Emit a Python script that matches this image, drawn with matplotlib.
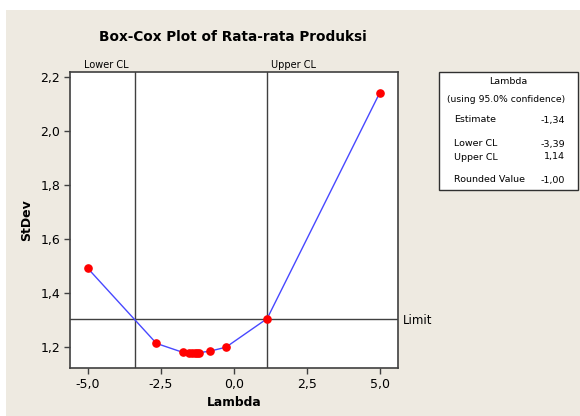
import matplotlib
matplotlib.use("Agg")
import matplotlib.pyplot as plt
from matplotlib.patches import Rectangle

lambdas = [-5.0, -2.65, -1.75, -1.52, -1.42, -1.34, -1.26, -1.19, -0.83, -0.27, 1.14, 5.0]
stdevs = [1.491, 1.213, 1.180, 1.179, 1.178, 1.178, 1.178, 1.179, 1.184, 1.199, 1.305, 2.142]
lower_cl = -3.39
upper_cl = 1.14
limit = 1.305
xticks = [-5.0, -2.5, 0.0, 2.5, 5.0]
xticklabels = ["-5,0", "-2,5", "0,0", "2,5", "5,0"]
yticks = [1.2, 1.4, 1.6, 1.8, 2.0, 2.2]
yticklabels = ["1,2", "1,4", "1,6", "1,8", "2,0", "2,2"]
legend_rows = [("Estimate", "-1,34"), ("Lower CL", "-3,39"), ("Upper CL", "1,14"), ("Rounded Value", "-1,00")]

W, H = 580, 416
fig = plt.figure(figsize=(W / 100, H / 100), dpi=100)
fig.patch.set_facecolor("white")
bg = "#EEEAE1"
fig.patches.append(Rectangle((6 / W, 0), 1 - 6 / W, (H - 10) / H, transform=fig.transFigure,
                             facecolor=bg, edgecolor="none", zorder=-5))

def fx(px):
    return px / W

def fy(py):
    return 1 - py / H

ax = fig.add_axes([fx(70), fy(368), fx(398) - fx(70), fy(72) - fy(368)])
ax.set_zorder(2)
ax.set_facecolor("white")
ax.set_xlim(-5.61, 5.62)
ax.set_ylim(1.122, 2.218)

ax.axvline(lower_cl, color="#404040", lw=1.0, zorder=1)
ax.axvline(upper_cl, color="#404040", lw=1.0, zorder=1)
ax.axhline(limit, color="#404040", lw=1.0, zorder=1)
ax.plot(lambdas, stdevs, color="#4848ff", lw=1.0, zorder=2)
ax.plot(lambdas, stdevs, "o", color="#ff0000", ms=5.2, mec="#ff0000", zorder=3)

ax.set_xticks(xticks)
ax.set_xticklabels(xticklabels)
ax.set_yticks(yticks)
ax.set_yticklabels(yticklabels)
ax.tick_params(direction="out", length=4, width=1, color="#404040", labelsize=9, pad=3)
for s in ax.spines.values():
    s.set_color("#404040")
    s.set_linewidth(1.2)

ax.set_xlabel("Lambda", fontsize=8.8, fontweight="bold", labelpad=4)
ax.set_ylabel("StDev", fontsize=9, fontweight="bold", labelpad=5)

fig.text(fx(233), fy(37), "Box-Cox Plot of Rata-rata Produksi", ha="center", va="center",
         fontsize=9.8, fontweight="bold")

fig.text(fx(129), fy(65), "Lower CL", ha="right", va="center", fontsize=7)
fig.text(fx(271), fy(65), "Upper CL", ha="left", va="center", fontsize=7)
fig.text(fx(403), fy(320), "Limit", ha="left", va="center", fontsize=8.5)

fig.patches.append(Rectangle((fx(439), fy(190)), fx(578) - fx(439), fy(72) - fy(190),
                             transform=fig.transFigure, facecolor="white", edgecolor="#303030",
                             lw=1.0, zorder=1))
fig.text(fx(508), fy(82), "Lambda", ha="center", va="center", fontsize=6.8)
fig.text(fx(506), fy(100), "(using 95.0% confidence)", ha="center", va="center", fontsize=6.7)
row_y = [120, 144, 157, 180]
for (lab, val), yy in zip(legend_rows, row_y):
    fig.text(fx(454), fy(yy), lab, ha="left", va="center", fontsize=6.8)
    fig.text(fx(565), fy(yy), val, ha="right", va="center", fontsize=6.8)

fig.savefig("out.png", dpi=100, facecolor=fig.get_facecolor())
